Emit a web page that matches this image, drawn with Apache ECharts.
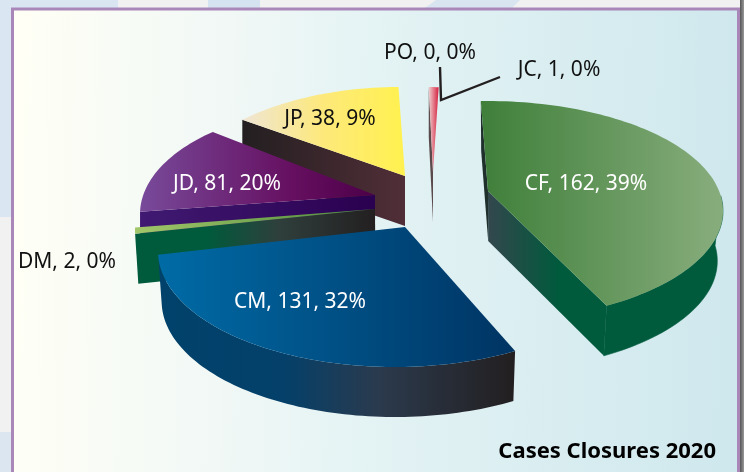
<!DOCTYPE html>
<html>
<head>
<meta charset="utf-8">
<style>
    html, body { margin: 0; padding: 0; background: #fff; }
    .EC { width: 744px; height: 472px; }
</style>
<script src="https://cdn.jsdelivr.net/npm/echarts@6/dist/echarts.min.js"></script>
</head>
<body>
<div class="EC"></div>
<script>
const categories = ['CF', 'CM', 'DM', 'JD', 'JP', 'JC', 'PO'];
const cases = [162, 131, 2, 81, 38, 1, 0];
const chartTitle = 'Cases Closures 2020';

// pie angle (clockwise from the top) -> angle on the drawn ellipse, the picture is not a clean projection
const warpIn = [0, 140, 254, 258, 328, 361, 364];
const warpOut = [-91.5, 59, 178, 181.5, 229.5, 270, 275];
const minAngle = { DM: 3.5, JC: 3 };
const depth = 50;

const hbar = (stops) => ({
    type: 'linear', x: 0, y: 0, x2: 1, y2: 0,
    colorStops: stops.map((c, i) => ({ offset: c[1] === undefined ? i / (stops.length - 1) : c[1], color: c[0] }))
});

const frames = {
    CF: {
        apex: [488, 191], c: [-1, 20], r: [236, 110], vanish: 495, k: 0.025,
        top: hbar([['#3f7f3a'], ['#88ad7d']]),
        wall: hbar([['#33474d', 0], ['#005a3c', 0.6], ['#005a3c', 1]]),
        startWall: '#1f2f2c', outer: '#005a3c',
        label: [586, 184], labelColor: '#fff'
    },
    CM: {
        apex: [405, 227], c: [-10, 24], r: [237, 116], vanish: 400, k: 0.015,
        top: hbar([['#006ba6'], ['#003463']]),
        outer: hbar([['#00426b', 0], ['#04406a', 0.35], ['#2b3a4d', 0.62], ['#231f20', 1]]),
        label: [300, 302], labelColor: '#fff'
    },
    DM: {
        apex: [375, 209], c: [-6, 21], r: [234, 116], vanish: 400, k: 0.012,
        top: hbar([['#a2c66a'], ['#4a8a3a']]),
        wall: hbar([['#005a3c', 0], ['#005a3c', 0.3], ['#2f3f3c', 0.6], ['#231f20', 1]]),
        label: [67, 262], labelColor: '#111'
    },
    JD: {
        apex: [375, 195], c: [-27, 19], r: [208, 108], vanish: 400, k: 0,
        top: hbar([['#784a9a', 0], ['#660f60', 0.65], ['#4c0048', 1]]),
        wall: hbar([['#401a72'], ['#2a0050']]),
        label: [227, 184], labelColor: '#fff'
    },
    JP: {
        apex: [405, 176], c: [-6, 47], r: [241, 136], vanish: 400, k: 0,
        top: hbar([['#efe5d5', 0], ['#fde97a', 0.5], ['#fff14f', 1]]),
        wall: hbar([['#231f20'], ['#512e38']]),
        label: [330, 119], labelColor: '#111'
    },
    JC: {
        apex: [433, 172], c: [-4, 0], r: [115, 85], vanish: 400, k: 0,
        top: hbar([['#f0cfcf'], ['#d5203f']]),
        wall: '#5a4a4c',
        label: [559, 70], labelColor: '#111'
    },
    PO: { label: [430, 53], labelColor: '#111' }
};

const drawOrder = ['PO', 'JC', 'JP', 'JD', 'DM', 'CM', 'CF'];

const total = cases.reduce((a, b) => a + b, 0);
const arcs = {};
let run = 0;
categories.forEach((name, i) => {
    const sweep = Math.max(cases[i] / total * 360, minAngle[name] || 0);
    arcs[name] = [run, run + sweep];
    run += sweep;
});

function warp(a) {
    for (let i = 1; i < warpIn.length; i++) {
        if (a <= warpIn[i]) {
            const f = (a - warpIn[i - 1]) / (warpIn[i] - warpIn[i - 1]);
            return warpOut[i - 1] + f * (warpOut[i] - warpOut[i - 1]);
        }
    }
    return warpOut[warpOut.length - 1];
}

function rim(fr, t) {
    const rad = t * Math.PI / 180;
    return [
        fr.apex[0] + fr.c[0] + fr.r[0] * Math.cos(rad),
        fr.apex[1] + fr.c[1] + fr.r[1] * Math.sin(rad)
    ];
}

// push a point down to the bottom face of the slice
function low(fr, p) {
    return [p[0] - (p[0] - fr.vanish) * fr.k, p[1] + depth];
}

function arcPoints(fr, t0, t1) {
    const pts = [];
    const n = Math.max(2, Math.ceil(Math.abs(t1 - t0) / 1.5));
    for (let i = 0; i <= n; i++) {
        pts.push(rim(fr, t0 + (t1 - t0) * i / n));
    }
    return pts;
}

function poly(points, fill, stroke) {
    return { type: 'polygon', shape: { points: points }, style: { fill: fill, stroke: stroke || null, lineWidth: 0.6 } };
}

function renderSlice(params) {
    const name = drawOrder[params.dataIndex];
    const i = categories.indexOf(name);
    const fr = frames[name];
    const children = [];

    if (fr.apex && cases[i] > 0) {
        const t0 = warp(arcs[name][0]);
        const t1 = warp(arcs[name][1]);
        const a = rim(fr, t0);
        const b = rim(fr, t1);
        if (fr.startWall) {
            children.push(poly([fr.apex, a, low(fr, a), low(fr, fr.apex)], fr.startWall));
        }
        if (name === 'CF') {
            children.push(poly([fr.apex, b, low(fr, b), low(fr, fr.apex)], fr.wall));
        } else if (fr.wall) {
            children.push(poly([fr.apex, a, low(fr, a), low(fr, fr.apex)], fr.wall));
        }
        if (fr.outer) {
            const top = arcPoints(fr, Math.max(t0, -8), Math.min(t1, 180));
            const line = typeof fr.outer === 'string' ? fr.outer : null;
            children.push(poly(top.concat(top.map((p) => low(fr, p)).reverse()), fr.outer, line));
        }
        children.push(poly([fr.apex].concat(arcPoints(fr, t0, t1)), fr.top));
    }

    const pct = Math.round(cases[i] / total * 100);
    children.push({
        type: 'text',
        z2: 10,
        style: {
            x: fr.label[0], y: fr.label[1],
            text: name + ', ' + cases[i] + ', ' + pct + '%',
            fill: fr.labelColor,
            font: '21px "Noto Sans"',
            align: 'center', verticalAlign: 'middle'
        }
    });
    return { type: 'group', children: children };
}

const backdrop = [
    { type: 'rect', shape: { x: 0, y: 0, width: 744, height: 472 }, style: { fill: '#f1f1f1' } },
    { type: 'rect', shape: { x: 0, y: 0, width: 118, height: 8 }, style: { fill: '#d9e6f2' } },
    { type: 'rect', shape: { x: 208, y: 0, width: 52, height: 8 }, style: { fill: '#d5e3f0' } },
    { type: 'polygon', shape: { points: [[425, 8], [436, 0], [520, 0], [512, 8]] }, style: { fill: '#d8e4f0' } },
    { type: 'rect', shape: { x: 0, y: 0, width: 11, height: 217 }, style: { fill: '#dae7f2' } },
    { type: 'rect', shape: { x: 0, y: 432, width: 11, height: 40 }, style: { fill: '#dbe6f1' } },
    {
        type: 'rect', shape: { x: 740, y: 0, width: 4, height: 472 },
        style: { fill: { type: 'linear', x: 0, y: 0, x2: 1, y2: 0, colorStops: [{ offset: 0, color: '#555' }, { offset: 1, color: '#999' }] } }
    },
    {
        type: 'rect',
        shape: { x: 12.5, y: 9, width: 726, height: 470 },
        style: {
            fill: {
                type: 'linear', x: 0, y: 0, x2: 1, y2: 0.05,
                colorStops: [
                    { offset: 0, color: '#fffff5' },
                    { offset: 0.3, color: '#f1f8f6' },
                    { offset: 0.5, color: '#e4f3f4' },
                    { offset: 1, color: '#cfe8ed' }
                ]
            },
            stroke: '#a987b9', lineWidth: 3
        }
    },
    {
        type: 'polyline', z: 5,
        shape: { points: [[440, 67], [441, 100], [500, 77]] },
        style: { stroke: '#231f20', lineWidth: 2.4, fill: null }
    },
    {
        type: 'text', z: 5,
        style: {
            x: 716, y: 452, text: chartTitle, fill: '#000',
            font: 'bold 22px "Noto Sans"', align: 'right', verticalAlign: 'middle'
        }
    }
];

const EC = echarts.init(document.querySelector('.EC'), null, { renderer: 'canvas' });
EC.setOption({
    animation: false,
    tooltip: { show: false },
    graphic: { elements: backdrop },
    series: [{
        type: 'custom',
        coordinateSystem: 'none',
        silent: true,
        z: 10,
        data: drawOrder.map((n) => cases[categories.indexOf(n)]),
        renderItem: renderSlice
    }]
});
</script>
</body>
</html>
